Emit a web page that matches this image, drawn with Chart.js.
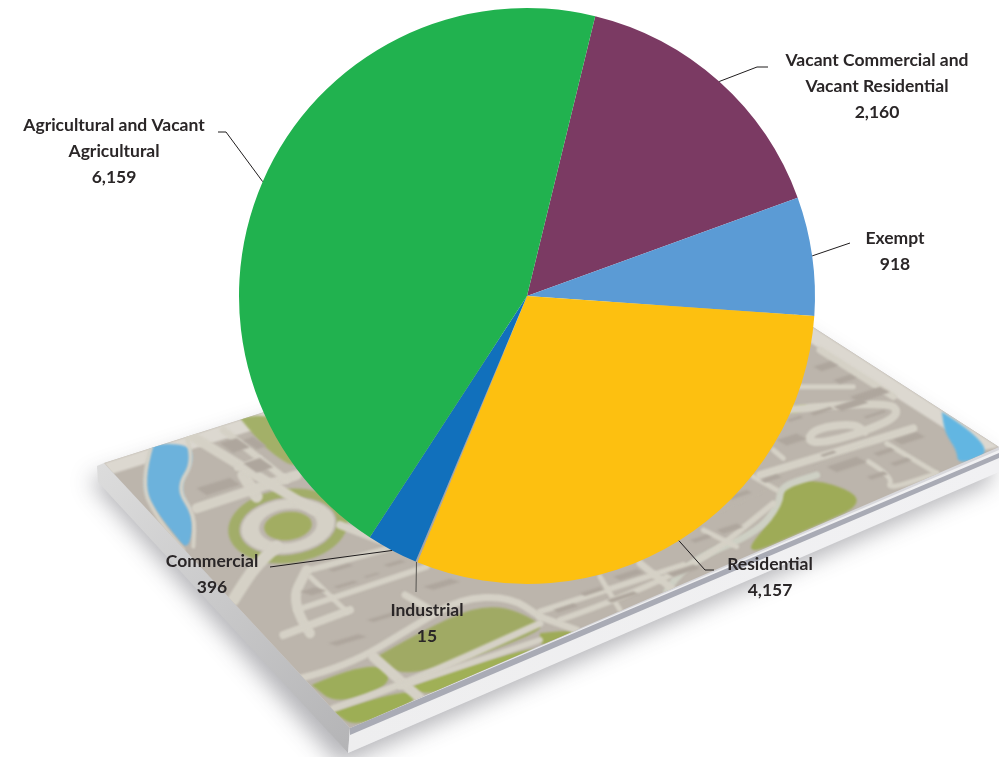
<!DOCTYPE html>
<html><head><meta charset="utf-8">
<style>html,body{margin:0;padding:0;background:#fff}canvas{display:block}</style>
<script src="https://cdn.jsdelivr.net/npm/chart.js@4"></script>
</head><body><canvas id="c" width="999" height="757"></canvas>
<script>
const categories = ["Vacant Commercial and Vacant Residential","Exempt","Residential","Industrial","Commercial","Agricultural and Vacant Agricultural"];
const values = [2160,918,4157,15,396,6159];
const sliceColors = ["#7b3a63","#5b9bd5","#fdc010","#a5a5a5","#1170bc","#21b24f"];
const labelLines = [["Vacant Commercial and","Vacant Residential"],["Exempt"],["Residential"],["Industrial"],["Commercial"],["Agricultural and Vacant","Agricultural"]];
const labelCentres = [[877,60],[895,238],[770,564],[427,610],[212,561],[114,125]];
const leaderBends = [[[757,67],[768,67]],[[850,243]],[[705,570],[714,570]],[[416,592]],[[270,567]],[[226,132],[218,132]]];

function path(ctx,pts,o){ctx.beginPath();pts.forEach((p,i)=>{const x=o[0]+p[0]/3,y=o[1]+p[1]/3;i?ctx.lineTo(x,y):ctx.moveTo(x,y)});}
function fillZ(ctx,pts,o,col){path(ctx,pts,o);ctx.closePath();ctx.fillStyle=col;ctx.fill();}
function smooth(ctx,pts,o){ctx.beginPath();const P=pts.map(p=>[o[0]+p[0]/3,o[1]+p[1]/3]);ctx.moveTo(P[0][0],P[0][1]);
 for(let i=1;i<P.length-1;i++){const mx=(P[i][0]+P[i+1][0])/2,my=(P[i][1]+P[i+1][1])/2;ctx.quadraticCurveTo(P[i][0],P[i][1],mx,my);}
 ctx.lineTo(P[P.length-1][0],P[P.length-1][1]);}
function road(ctx,pts,o,w,col){smooth(ctx,pts,o);ctx.lineWidth=w;ctx.strokeStyle=col||"#d5d1c6";ctx.lineCap="round";ctx.lineJoin="round";ctx.stroke();}
function blob(ctx,pts,o,col){smooth(ctx,pts,o);ctx.closePath();ctx.fillStyle=col;ctx.fill();}
function bld(ctx,x,y,w,h,o,slopeA,slopeB,col){fillZ(ctx,[[x,y],[x+w,y+w*slopeA],[x+w+h,y+w*slopeA+h*slopeB],[x+h,y+h*slopeB]],o,col||"#aea69d");}

const mapPlugin={id:"mapBackdrop",beforeDraw(chart){
 const ctx=chart.ctx;ctx.save();
 const Z1=[80,400],Z2=[540,300],O=[0,0];
 // shadow + thickness
 ctx.save();ctx.shadowColor="rgba(60,60,70,.38)";ctx.shadowBlur=22;ctx.shadowOffsetX=-8;ctx.shadowOffsetY=12;
 ctx.beginPath();ctx.moveTo(97,468);ctx.lineTo(348,753);ctx.lineTo(999,470);ctx.lineTo(999,447);ctx.lineTo(720,267);ctx.closePath();ctx.fillStyle="#d8d8dc";ctx.fill();ctx.restore();
 let g=ctx.createLinearGradient(97,468,348,753);g.addColorStop(0,"#dcdcdc");g.addColorStop(1,"#b4b4b6");
 ctx.beginPath();ctx.moveTo(97,466);ctx.lineTo(104,463);ctx.lineTo(350,728);ctx.lineTo(348,753);ctx.lineTo(98,482);ctx.closePath();ctx.fillStyle=g;ctx.fill();
 g=ctx.createLinearGradient(348,753,999,470);g.addColorStop(0,"#eeeeef");g.addColorStop(1,"#f1f1f3");
 ctx.beginPath();ctx.moveTo(350,728);ctx.lineTo(999,450);ctx.lineTo(999,472);ctx.lineTo(348,753);ctx.closePath();ctx.fillStyle=g;ctx.fill();
 ctx.beginPath();ctx.moveTo(350,728);ctx.lineTo(999,453);ctx.lineTo(999,458);ctx.lineTo(350,735);ctx.closePath();ctx.fillStyle="#a9abb5";ctx.fill();
 // surface
 ctx.save();
 ctx.beginPath();ctx.moveTo(104,463);ctx.lineTo(720,267);ctx.lineTo(999,447);ctx.lineTo(350,728);ctx.closePath();ctx.clip();
 ctx.filter="blur(0.8px)";
 ctx.fillStyle="#bcb5ac";ctx.fillRect(0,200,999,557);
 // light upper border
 g=ctx.createLinearGradient(0,0,0,1);
 ctx.beginPath();ctx.moveTo(104,463);ctx.lineTo(720,267);ctx.lineTo(999,447);ctx.lineTo(980,451);ctx.lineTo(720,285);ctx.lineTo(112,474);ctx.closePath();ctx.fillStyle="#dcd8d0";ctx.fill();
 // left water
 blob(ctx,[[215,135],[320,125],[345,180],[295,262],[345,350],[325,455],[280,400],[200,300],[190,240],[215,135]],Z1,"#6cb2dc");
 road(ctx,[[215,135],[180,250],[235,360],[310,450]],Z1,4);
 road(ctx,[[320,115],[345,180],[290,265],[345,345],[340,440]],Z1,4);
 // right water
 blob(ctx,[[1205,335],[1380,445],[1255,497],[1250,450],[1215,400],[1205,335]],Z2,"#62b6e2");
 // greens
 blob(ctx,[[480,55],[550,35],[700,100],[660,215],[560,150],[480,55]],Z1,"#a3b068");
 blob(ctx,[[695,855],[880,775],[950,850],[770,915],[695,855]],Z1,"#9dad5a");
 blob(ctx,[[760,935],[970,865],[1030,895],[830,985],[760,935]],Z1,"#9dae55");
 blob(ctx,[[890,770],[1100,650],[1250,610],[1380,665],[1380,700],[980,840],[890,770]],Z1,"#a0aa64");
 blob(ctx,[[990,860],[1380,720],[1390,790],[1050,890],[990,860]],Z1,"#a0b056");
 blob(ctx,[[735,560],[800,525],[1000,600],[800,690],[600,775],[700,650],[735,560]],Z2,"#9eab57");
 blob(ctx,[[0,1000],[90,990],[110,1000],[0,1045],[0,1000]],Z2,"#9eab57");
 blob(ctx,[[760,320],[815,310],[780,335],[750,340]],Z2,"#9eab57");
 // roundabout
 const cx=288,cy=526;
 const ell=(rx,ry,col)=>{ctx.beginPath();ctx.ellipse(cx,cy,rx,ry,-0.12,0,Math.PI*2);ctx.fillStyle=col;ctx.fill();};
 ell(60,37,"#a2ad69");ell(49,29,"#bcb5ac");ell(47,27,"#d5d1c6");ell(29,17,"#bdb6ad");ell(24,14,"#a2ad62");
 road(ctx,[[530,290],[490,225]],Z1,12);road(ctx,[[350,325],[650,225]],Z1,10);road(ctx,[[780,375],[900,420]],Z1,8);
 road(ctx,[[590,440],[530,490],[460,600]],Z1,12);
 // left-side city
 road(ctx,[[330,105],[700,330]],Z1,10);road(ctx,[[430,90],[620,240]],Z1,7);road(ctx,[[470,205],[540,175]],Z1,5);
 [[350,265,100,30],[420,130,50,40],[490,190,50,40],[490,120,30,40]].forEach(a=>bld(ctx,a[0],a[1],a[2],a[3],Z1,-.32,.7));
 road(ctx,[[690,510],[980,430]],Z1,6);road(ctx,[[650,630],[1040,500]],Z1,6);
 road(ctx,[[690,700],[630,610],[680,510]],Z1,10);road(ctx,[[610,705],[810,630]],Z1,8);road(ctx,[[690,530],[800,635]],Z1,5);road(ctx,[[975,585],[1045,625]],Z1,7);
 road(ctx,[[660,835],[800,800],[1000,680],[1140,595],[1290,590],[1380,650]],Z1,7);
 road(ctx,[[880,770],[1020,895]],Z1,10);road(ctx,[[760,925],[960,860],[1380,670]],Z1,7);
 road(ctx,[[960,860],[1380,720]],Z1,6);
 [[660,575,45,35],[745,510,60,15],[760,560,60,15],[850,530,40,10],[860,660,80,20],[745,730,90,25],[1030,560,80,30],[910,495,50,18]].forEach(a=>bld(ctx,a[0],a[1],a[2],a[3],Z1,-.3,.3));
 // right-side city
 road(ctx,[[380,875],[430,790],[650,700],[720,610],[720,560],[830,525]],Z2,7,"#ced0c4");
 road(ctx,[[660,525],[1120,385]],Z2,8);road(ctx,[[740,330],[1040,300],[1085,345],[960,400],[840,430],[800,420],[830,385],[940,370],[975,395]],Z2,8);
 road(ctx,[[840,150],[1060,290]],Z2,7);road(ctx,[[760,260],[940,260]],Z2,5);
 road(ctx,[[640,530],[710,570]],Z2,5);road(ctx,[[700,450],[730,475]],Z2,5);
 road(ctx,[[1040,430],[1190,520]],Z2,5);road(ctx,[[985,485],[1060,530],[1040,570],[1190,520]],Z2,5);
 road(ctx,[[0,935],[430,795]],Z2,6);road(ctx,[[110,840],[1000,420]],Z2,0.1);road(ctx,[[60,960],[430,830],[700,610]],Z2,6);
 road(ctx,[[180,830],[240,930]],Z2,5);road(ctx,[[300,790],[400,870]],Z2,7);road(ctx,[[0,950],[110,990]],Z2,7);road(ctx,[[490,690],[590,740]],Z2,5);
 [[820,200,50,25],[880,240,50,20],[930,290,90,30],[880,320,80,25],[810,340,60,12],[740,360,40,10],[970,350,60,10],[710,420,60,30],[840,465,40,10],[860,500,90,30],[1060,420,70,25],[1000,460,50,15],[1050,490,50,15],[980,530,50,15],[530,690,60,20],[450,720,50,15],[660,540,50,15],[380,820,80,20],[220,830,70,20],[120,880,60,15],[200,900,80,15],[40,930,60,15],[560,590,60,15]].forEach(a=>bld(ctx,a[0],a[1],a[2],a[3],Z2,-.33,.55));
 ctx.restore();
 ctx.restore();
},
afterDraw(chart){
 const ctx=chart.ctx,arcs=chart.getDatasetMeta(0).data;ctx.save();
 arcs.forEach((a,i)=>{const m=(a.startAngle+a.endAngle)/2,r=a.outerRadius;
  ctx.beginPath();ctx.moveTo(a.x+Math.cos(m)*r,a.y+Math.sin(m)*r);
  leaderBends[i].forEach(p=>ctx.lineTo(p[0],p[1]));
  ctx.lineWidth=1;ctx.strokeStyle=i===3?"#55534f":"#1f1c1d";ctx.stroke();
  const L=labelLines[i].concat(values[i].toLocaleString("en-US"));
  ctx.font='bold 17.5px Lato';ctx.fillStyle="#2a2627";ctx.textAlign="center";ctx.textBaseline="middle";
  L.forEach((t,k)=>ctx.fillText(t,labelCentres[i][0],labelCentres[i][1]+k*26));
 });
 ctx.restore();
}};

new Chart(document.getElementById("c"),{type:"pie",
 data:{labels:categories,datasets:[{data:values,backgroundColor:sliceColors,borderWidth:0,radius:288,rotation:13.7}]},
 options:{responsive:false,animation:false,
  layout:{padding:{left:55,right:0,top:0,bottom:165}},
  plugins:{legend:{display:false},tooltip:{enabled:false},title:{display:false}}},
 plugins:[mapPlugin]});
</script></body></html>
